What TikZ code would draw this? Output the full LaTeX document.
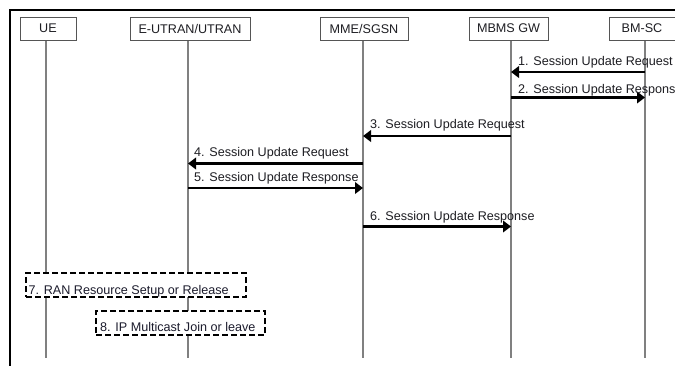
\documentclass[tikz,border=0pt]{standalone}
\usepackage{fontspec}
\setmainfont{Liberation Sans}
\usetikzlibrary{arrows.meta}
\definecolor{boxline}{RGB}{85,85,85}
\definecolor{lifegray}{RGB}{128,128,128}
\definecolor{msgtext}{RGB}{30,30,35}
\definecolor{notetext}{RGB}{28,28,45}
\tikzset{
  entity/.style={draw=boxline, line width=0.9pt, fill=white, inner sep=0pt,
                 minimum height=23pt, text=msgtext},
  life/.style={draw=lifegray, line width=1.2pt},
  msg/.style={draw=black, line width=2.8pt,
              -{Triangle[length=8pt,width=11.5pt]}},
  msglabel/.style={anchor=base west, inner sep=0pt, text=msgtext},
  notebox/.style={draw=black, line width=2pt, dash pattern=on 6pt off 3pt,
                  fill=white, inner sep=0pt},
  notelabel/.style={anchor=base west, inner sep=0pt, text=notetext},
  frameline/.style={draw=black, line width=2pt}
}
\begin{document}
\begin{tikzpicture}[x=1pt, y=-1pt, font=\fontsize{12.6}{15}\selectfont]
\useasboundingbox (0,0) rectangle (675,365);
\fill[white] (0,0) rectangle (675,365);

% outer frame (top and left edges)
\coordinate (fr-bl) at (10,372);
\coordinate (fr-tl) at (10,10);
\coordinate (fr-tr) at (690,10);
\draw[frameline] (fr-bl) -- (fr-tl) -- (fr-tr);

% lifeline positions
\coordinate (L-ue)   at (46,0);
\coordinate (L-eu)   at (188,0);
\coordinate (L-mme)  at (363,0);
\coordinate (L-gw)   at (511,0);
\coordinate (L-bm)   at (645,0);

% lifelines
\draw[life] (L-ue  |- 0,40) -- (L-ue  |- 0,358);
\draw[life] (L-eu  |- 0,40) -- (L-eu  |- 0,358);
\draw[life] (L-mme |- 0,40) -- (L-mme |- 0,358);
\draw[life] (L-gw  |- 0,40) -- (L-gw  |- 0,358);
\draw[life] (L-bm  |- 0,40) -- (L-bm  |- 0,358);

% entities
\node[entity, minimum width=56pt]  (ue)   at (48,28.5)    {UE};
\node[entity, minimum width=120pt] (eu)   at (190,28.5)   {E-UTRAN/UTRAN};
\node[entity, minimum width=88pt]  (mme)  at (364,28.5)   {MME/SGSN};
\node[entity, minimum width=79pt]  (gw)   at (508.5,28.5) {MBMS GW};
\node[entity, minimum width=66pt]  (bm)   at (642,28.5)   {BM-SC};

% messages
\draw[msg] (L-bm  |- 0,72)    -- (L-gw  |- 0,72);
\node[msglabel] (t1) at (518,65.5)  {1. Session Update Request};
\draw[msg] (L-gw  |- 0,97.5)  -- (L-bm  |- 0,97.5);
\node[msglabel] (t2) at (518,93)    {2. Session Update Response};
\draw[msg] (L-gw  |- 0,136)   -- (L-mme |- 0,136);
\node[msglabel] (t3) at (370,128.5) {3. Session Update Request};
\draw[msg] (L-mme |- 0,163.5) -- (L-eu  |- 0,163.5);
\node[msglabel] (t4) at (194,156.5) {4. Session Update Request};
\draw[msg] (L-eu  |- 0,188)   -- (L-mme |- 0,188);
\node[msglabel] (t5) at (194,181.5) {5. Session Update Response};
\draw[msg] (L-mme |- 0,226.5) -- (L-gw  |- 0,226.5);
\node[msglabel] (t6) at (370,220)   {6. Session Update Response};

% local procedures
\node[notebox, minimum width=220pt, minimum height=24pt] (ran) at (136,285) {};
\node[notelabel] (ranlabel) at (28.5,294.5) {7. RAN Resource Setup or Release};
\node[notebox, minimum width=169pt, minimum height=24pt] (ipm) at (180.5,323) {};
\node[notelabel] (ipmlabel) at (100,331.5) {8. IP Multicast Join or leave};
\end{tikzpicture}
\end{document}
